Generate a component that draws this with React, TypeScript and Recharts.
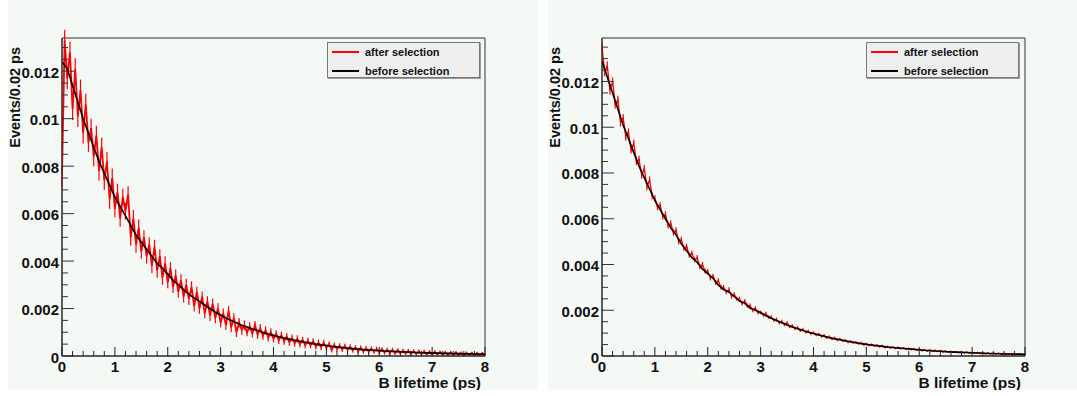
import React from 'react';
import { LineChart, Line, XAxis, YAxis, ReferenceArea, Label, ErrorBar } from 'recharts';

// bin step of the digitised red histograms and of the black reference curves (ps)
const RED_STEP = 0.05;
const BLACK_STEP = 0.1;
// error bars of the red histogram, one half-length per 0.5 ps slice
const ERR_SLICE = 0.5;

const Y_TICKS_LEFT = [0, 0.002, 0.004, 0.006, 0.008, 0.01, 0.012];
const Y_TICKS_RIGHT = [0, 0.002, 0.004, 0.006, 0.008, 0.01, 0.012];

const LEGEND_LABELS = ['after selection', 'before selection'];
const X_TITLE = 'B lifetime (ps)';
const Y_TITLE = 'Events/0.02 ps';

// left panel
const leftAfter = [
  0.0076, 0.0133, 0.0117, 0.0128, 0.0104, 0.0121, 0.0101, 0.0112, 0.0094, 0.0106,
  0.0090, 0.0096, 0.0084, 0.0093, 0.0078, 0.0088, 0.0074, 0.0082, 0.0066, 0.0075,
  0.0062, 0.0069, 0.0058, 0.0067, 0.0061, 0.0068, 0.0050, 0.0058, 0.0047, 0.0054,
  0.0044, 0.0050, 0.0042, 0.0047, 0.0038, 0.0046, 0.0036, 0.0042, 0.0033, 0.0039,
  0.0031, 0.0037, 0.0029, 0.0034, 0.0027, 0.0032, 0.0025, 0.0030, 0.0024, 0.0029,
  0.0021, 0.0027, 0.0020, 0.0025, 0.0018, 0.0023, 0.0017, 0.0022, 0.0016, 0.0020,
  0.0014, 0.0018, 0.0013, 0.0019, 0.0012, 0.0016, 0.0010, 0.0014, 0.0011, 0.0013,
  0.00100, 0.00125, 0.00095, 0.00130, 0.00090, 0.00118, 0.00085, 0.00108, 0.00078, 0.00100,
  0.00072, 0.00094, 0.00066, 0.00088, 0.00062, 0.00082, 0.00058, 0.00076, 0.00054, 0.00072,
  0.00050, 0.00068, 0.00046, 0.00064, 0.00045, 0.00062, 0.00040, 0.00056, 0.00038, 0.00055,
  0.00036, 0.00050, 0.00026, 0.00046, 0.00030, 0.00043, 0.00028, 0.00041, 0.00026, 0.00038,
  0.00024, 0.00036, 0.00022, 0.00034, 0.00020, 0.00032, 0.00019, 0.00031, 0.00018, 0.00029,
  0.00016, 0.00028, 0.00015, 0.00026, 0.00014, 0.00025, 0.00013, 0.00024, 0.00012, 0.00022,
  0.00011, 0.00021, 0.00010, 0.00020, 0.00009, 0.00019, 0.00009, 0.00018, 0.00008, 0.00017,
  0.00007, 0.00017, 0.00007, 0.00016, 0.00006, 0.00015, 0.00005, 0.00015, 0.00005, 0.00014,
  0.00005, 0.00013, 0.00004, 0.00013, 0.00004, 0.00012, 0.00003, 0.00012, 0.00003, 0.00011,
  0.00004,
];
const leftErr = [
  0.00045, 0.0004, 0.00035, 0.0003, 0.00025, 0.00022, 0.0002, 0.00017, 0.00015, 0.00013,
  0.00011, 0.0001, 0.00009, 0.00008, 0.00007, 0.00006, 0.00005,
];
const leftBefore = [
  0.0124, 0.0121, 0.0114, 0.0107, 0.0100, 0.0094, 0.0088, 0.0082, 0.0077, 0.0072,
  0.0067, 0.0063, 0.0059, 0.0055, 0.0051, 0.0048, 0.0045, 0.0042, 0.0039, 0.0037,
  0.00345, 0.0032, 0.0030, 0.0028, 0.0026, 0.00245, 0.0023, 0.00215, 0.0020, 0.00185,
  0.00173, 0.0016, 0.0015, 0.0014, 0.0013, 0.00122, 0.00114, 0.00107, 0.00099, 0.00093,
  0.00087, 0.00081, 0.00076, 0.00071, 0.00066, 0.00062, 0.00058, 0.00054, 0.00050, 0.00047,
  0.00044, 0.00041, 0.00038, 0.00036, 0.00033, 0.00031, 0.00029, 0.00027, 0.00026, 0.00024,
  0.00023, 0.00021, 0.00020, 0.00019, 0.00018, 0.00017, 0.00016, 0.00015, 0.00014, 0.00013,
  0.00013, 0.00012, 0.00011, 0.00011, 0.00010, 0.00010, 0.00009, 0.00009, 0.00008, 0.00008,
  0.00007,
];

// right panel
const rightAfter = [
  0.0135, 0.0124, 0.0127, 0.0116, 0.0120, 0.0110, 0.0112, 0.0102, 0.0104, 0.0096,
  0.0098, 0.0090, 0.0093, 0.0085, 0.0086, 0.0079, 0.0082, 0.0074, 0.0077, 0.0070,
  0.0069, 0.0065, 0.0066, 0.0061, 0.0062, 0.0057, 0.0058, 0.0054, 0.0055, 0.0050,
  0.0051, 0.0047, 0.0048, 0.0044, 0.0045, 0.0042, 0.0043, 0.0039, 0.0040, 0.0037,
  0.0037, 0.0034, 0.0035, 0.0032, 0.0033, 0.0030, 0.0030, 0.0028, 0.0029, 0.0026,
  0.0027, 0.0025, 0.0025, 0.0023, 0.0024, 0.0022, 0.0022, 0.0020, 0.0021, 0.0019,
  0.0019, 0.0018, 0.00185, 0.0017, 0.00170, 0.00157, 0.00160, 0.00146, 0.00150, 0.00138,
  0.00145, 0.00128, 0.00132, 0.00120, 0.00124, 0.00112, 0.00116, 0.00105, 0.00108, 0.00098,
  0.00102, 0.00092, 0.00096, 0.00086, 0.00090, 0.00080, 0.00084, 0.00075, 0.00079, 0.00070,
  0.00074, 0.00066, 0.00069, 0.00061, 0.00065, 0.00058, 0.00061, 0.00054, 0.00057, 0.00050,
  0.00053, 0.00047, 0.00050, 0.00044, 0.00047, 0.00041, 0.00044, 0.00038, 0.00041, 0.00036,
  0.00039, 0.00034, 0.00037, 0.00032, 0.00035, 0.00030, 0.00033, 0.00028, 0.00031, 0.00026,
  0.00029, 0.00024, 0.00027, 0.00022, 0.00026, 0.00021, 0.00024, 0.00020, 0.00023, 0.00018,
  0.00021, 0.00017, 0.00020, 0.00016, 0.00019, 0.00015, 0.00018, 0.00014, 0.00017, 0.00013,
  0.00016, 0.00012, 0.00015, 0.00011, 0.00014, 0.00010, 0.00013, 0.00009, 0.00012, 0.00009,
  0.00012, 0.00008, 0.00011, 0.00008, 0.00010, 0.00007, 0.00010, 0.00006, 0.00009, 0.00006,
  0.00008,
];
const rightErr = [
  0.00018, 0.00015, 0.00013, 0.00011, 0.0001, 0.00009, 0.00008, 0.00007, 0.00006, 0.00005,
  0.00005, 0.00004, 0.00004, 0.00003, 0.00003, 0.00002, 0.00002,
];
const rightBefore = [
  0.0129, 0.0122, 0.0115, 0.0108, 0.0101, 0.0095, 0.0089, 0.0083, 0.0078, 0.0073,
  0.0068, 0.0064, 0.0060, 0.0056, 0.0053, 0.0049, 0.0046, 0.0043, 0.0041, 0.0038,
  0.0036, 0.0034, 0.0031, 0.0029, 0.0028, 0.0026, 0.0024, 0.0023, 0.0021, 0.0020,
  0.0019, 0.00176, 0.00165, 0.00155, 0.00145, 0.00136, 0.00127, 0.00119, 0.00111, 0.00104,
  0.00098, 0.00092, 0.00086, 0.00080, 0.00075, 0.00071, 0.00066, 0.00062, 0.00058, 0.00054,
  0.00051, 0.00048, 0.00045, 0.00042, 0.00039, 0.00037, 0.00035, 0.00033, 0.00031, 0.00029,
  0.00027, 0.00025, 0.00024, 0.00022, 0.00021, 0.00019, 0.00018, 0.00017, 0.00016, 0.00015,
  0.00014, 0.00013, 0.00012, 0.00011, 0.00011, 0.00010, 0.00009, 0.00009, 0.00008, 0.00008,
  0.00007,
];

const BG = '#f4f9f6';
const FONT = '"Liberation Sans", Arial, sans-serif';

const toPoints = (vals: number[], step: number, errs?: number[]) =>
  vals.map((v, i) => {
    const t = +(i * step).toFixed(3);
    const e = errs ? errs[Math.min(errs.length - 1, Math.floor(t / ERR_SLICE))] : 0;
    return { t, v, e };
  });

const isMultiple = (v: number, m: number) => Math.abs(v / m - Math.round(v / m)) < 1e-6;

const XTick = (props: any) => {
  const { x, y, payload } = props;
  const v = payload.value;
  const major = isMultiple(v, 1);
  return (
    <g>
      <line x1={x} x2={x} y1={y} y2={y - (major ? 9 : 5)} stroke="#222" />
      {major && (
        <text x={x} y={y + 10} textAnchor="middle" dominantBaseline="central"
          fontFamily={FONT} fontWeight="bold" fontSize={15} fill="#111">{v}</text>
      )}
    </g>
  );
};

const YTick = (props: any) => {
  const { x, y, payload } = props;
  const v = payload.value;
  const major = isMultiple(v, 0.002);
  return (
    <g>
      <line x1={x} x2={x + (major ? 12 : 6)} y1={y} y2={y} stroke="#333" />
      {major && (
        <text x={x - 3} y={y + 1} textAnchor="end" dominantBaseline="central"
          fontFamily={FONT} fontWeight="bold" fontSize={15} fill="#111">{String(+v.toFixed(3))}</text>
      )}
    </g>
  );
};

const LegendBox = ({ left }: { left: number }) => (
  <div style={{
    position: 'absolute', left, top: 42,
    width: 151, height: 34, background: '#efefef', border: '1px solid #777',
    boxShadow: '1px 1px 0 #999', fontFamily: FONT, fontWeight: 'bold', fontSize: 11, color: '#111',
  }}>
    {LEGEND_LABELS.map((name, i) => (
      <div key={name} style={{ display: 'flex', alignItems: 'center', height: 17, marginTop: i === 0 ? 0 : 2 }}>
        <div style={{ width: 27, height: 0, borderTop: `2px solid ${i === 0 ? '#ff0000' : '#000'}`, marginLeft: 4, marginRight: 6 }} />
        <span>{name}</span>
      </div>
    ))}
  </div>
);

type PanelProps = {
  width: number;
  after: number[];
  errs: number[];
  before: number[];
  yMax: number;
  majorY: number[];
  redWidth: number;
};

const Panel = ({ width, after, errs, before, yMax, majorY, redWidth }: PanelProps) => {
  const xTicks: number[] = [];
  for (let i = 0; i <= 40; i++) xTicks.push(+(i * 0.2).toFixed(1));
  const yTicks: number[] = [];
  for (let v = 0; v <= yMax + 1e-9; v += 0.0005) yTicks.push(+v.toFixed(4));
  majorY.forEach((m) => { if (!yTicks.some((t) => Math.abs(t - m) < 1e-9)) yTicks.push(m); });

  return (
    <div style={{ position: 'relative', width, height: 390, background: BG }}>
      <LineChart width={width} height={390} margin={{ top: 38, right: width - 477, bottom: 0, left: 4 }}>
        <XAxis dataKey="t" type="number" domain={[0, 8]} ticks={xTicks} interval={0}
          tick={<XTick />} tickLine={false} tickSize={0} tickMargin={0} height={34}
          axisLine={{ stroke: '#222' }} allowDataOverflow>
          <Label content={(p: any) => (
            <text x={p.viewBox.x + p.viewBox.width - 4} y={p.viewBox.y + 26} textAnchor="end"
              dominantBaseline="central" fontFamily={FONT} fontWeight="bold" fontSize={15.5} fill="#111">{X_TITLE}</text>
          )} />
        </XAxis>
        <YAxis type="number" domain={[0, yMax]} ticks={yTicks} interval={0}
          tick={<YTick />} tickLine={false} tickSize={0} tickMargin={0} width={50}
          axisLine={{ stroke: '#222' }} allowDataOverflow>
          <Label content={() => (
            <text x={7} y={47} textAnchor="end" dominantBaseline="central"
              transform="rotate(-90 7 47)"
              fontFamily={FONT} fontWeight="bold" fontSize={14.5} fill="#111">{Y_TITLE}</text>
          )} />
        </YAxis>
        <ReferenceArea x1={0} x2={8} y1={0} y2={yMax} fill="none" stroke="#333" strokeWidth={1} ifOverflow="visible" />
        <Line data={toPoints(after, RED_STEP, errs)} dataKey="v" type="linear" stroke="#ff0000"
          strokeWidth={redWidth} dot={false} isAnimationActive={false}>
          <ErrorBar dataKey="e" width={0} stroke="#ff0000" strokeWidth={1.2} direction="y" />
        </Line>
        <Line data={toPoints(before, BLACK_STEP)} dataKey="v" type="linear" stroke="#000"
          strokeWidth={1.6} dot={false} isAnimationActive={false} />
      </LineChart>
      <LegendBox left={319 + (width - 530)} />
    </div>
  );
}

export default function App() {
  return (
    <div style={{ position: 'absolute', left: 0, top: 0, width: 1077, height: 396, background: '#fff' }}>
      <div style={{ position: 'absolute', left: 8, top: 0 }}>
        <Panel width={530} after={leftAfter} errs={leftErr} before={leftBefore} yMax={0.0134} majorY={Y_TICKS_LEFT} redWidth={1.8} />
      </div>
      <div style={{ position: 'absolute', left: 548, top: 0 }}>
        <Panel width={529} after={rightAfter} errs={rightErr} before={rightBefore} yMax={0.0139} majorY={Y_TICKS_RIGHT} redWidth={1.3} />
      </div>
    </div>
  );
}
